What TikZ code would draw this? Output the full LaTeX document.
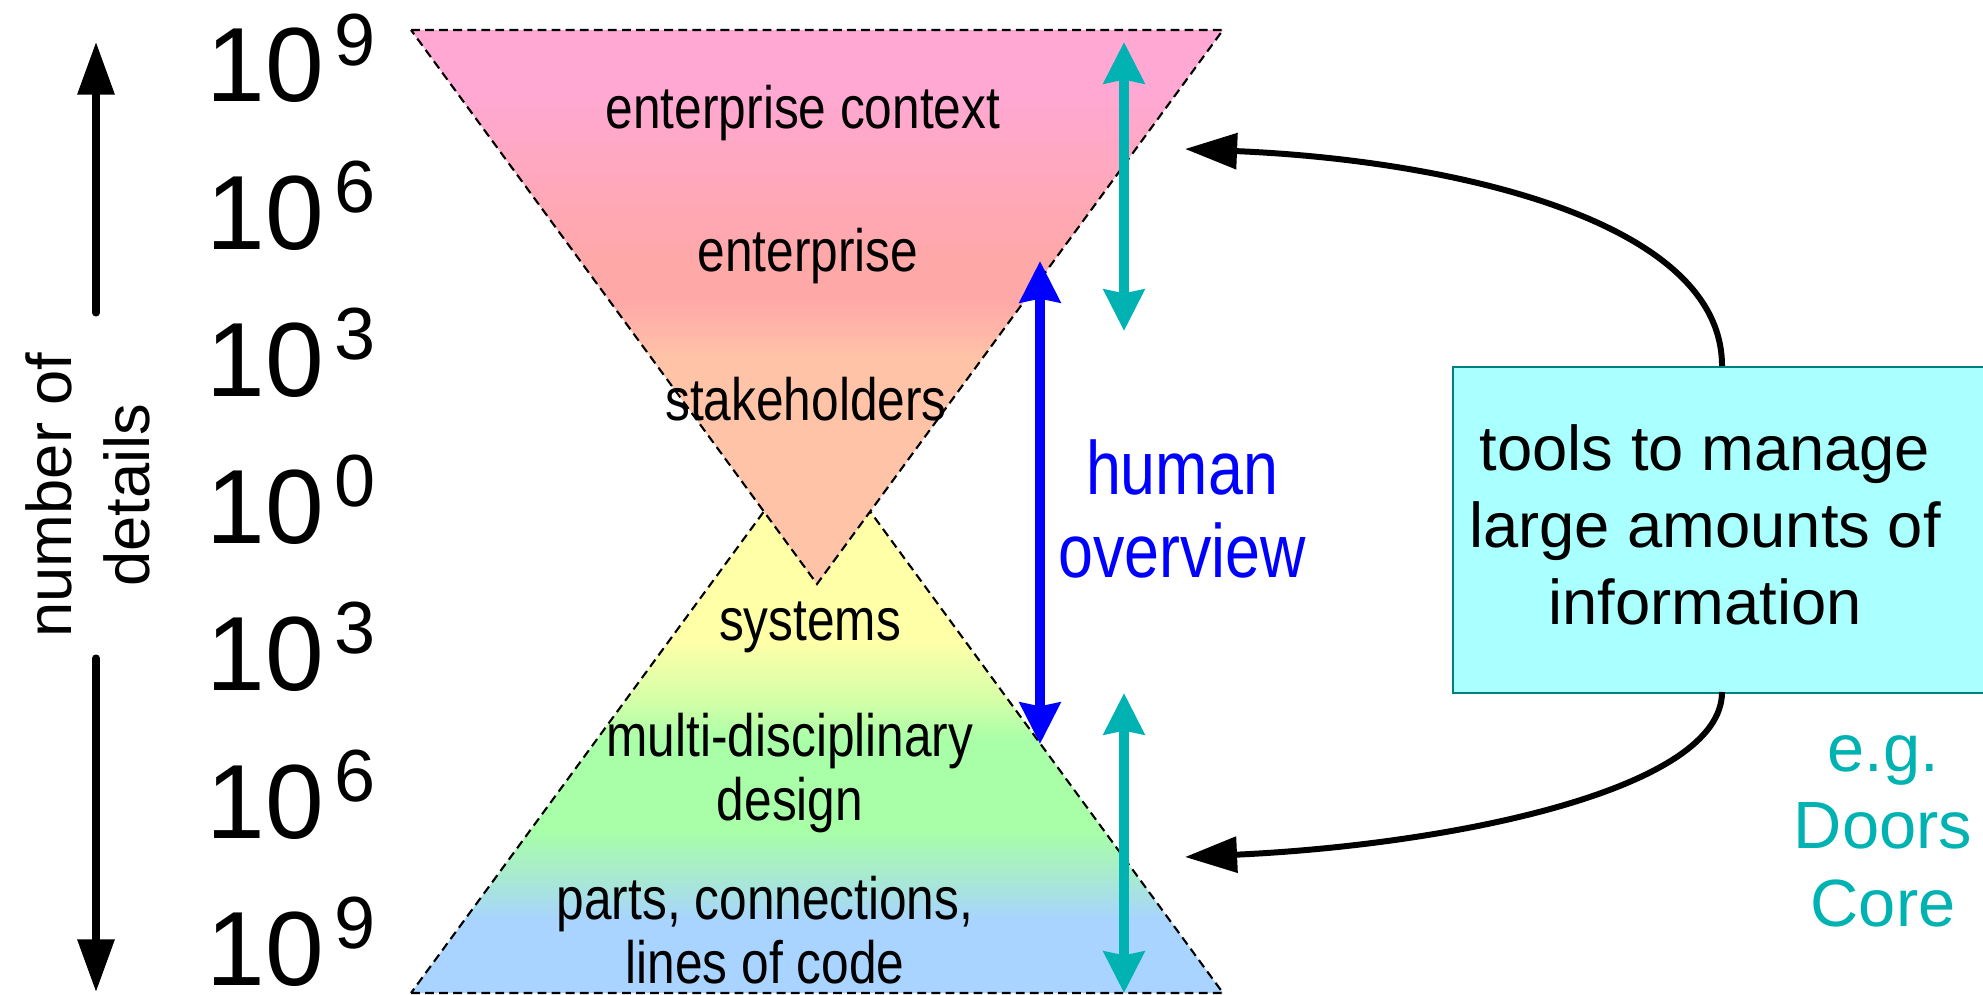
\documentclass[tikz,border=0pt]{standalone}
\usepackage{fontspec}
\setmainfont{Liberation Sans}
\newfontfamily\narrowsf{Liberation Sans}[FakeStretch=0.83]
\usetikzlibrary{arrows.meta}

\definecolor{ucpink}{RGB}{255,168,212}
\definecolor{ucrose}{RGB}{255,168,188}
\definecolor{ucsalmon}{RGB}{255,168,168}
\definecolor{ucpeach}{RGB}{255,196,168}
\definecolor{lcyellow}{RGB}{255,255,168}
\definecolor{lclime}{RGB}{212,255,168}
\definecolor{lcgreen}{RGB}{168,255,168}
\definecolor{lcsea}{RGB}{168,232,212}
\definecolor{lcblue}{RGB}{168,212,255}
\definecolor{toolfill}{RGB}{170,255,255}
\definecolor{toolline}{RGB}{0,128,128}
\definecolor{doorsteal}{RGB}{0,178,178}

\pgfdeclareverticalshading{upperfade}{100bp}{color(0bp)=(ucpeach); color(45.2bp)=(ucpeach); color(50.6bp)=(ucsalmon); color(54.2bp)=(ucsalmon); color(61.5bp)=(ucrose); color(69.6bp)=(ucpink); color(100bp)=(ucpink)}
\pgfdeclareverticalshading{lowerfade}{100bp}{color(0bp)=(lcblue); color(31.6bp)=(lcblue); color(35.2bp)=(lcsea); color(39.7bp)=(lcgreen); color(47.8bp)=(lcgreen); color(51.4bp)=(lclime); color(56.9bp)=(lcyellow); color(100bp)=(lcyellow)}

\newcommand{\tenpow}[1]{10\kern3pt\raisebox{10.5pt}{\fontsize{21}{21}\selectfont#1}}

\tikzset{
  funnel/.style={draw=black, line width=0.6pt, dash pattern=on 2.5pt off 1.5pt},
  layer/.style={font={\narrowsf\fontsize{17}{18}\selectfont}, align=center, inner sep=0pt, anchor=base},
  power/.style={font=\fontsize{30}{30}\selectfont, inner sep=0pt, anchor=base west},
  axisarrow/.style={line width=2pt, line cap=round, -{Triangle[length=15pt,width=10.2pt]}},
  spanarrow/.style={line width=2.8pt, {Stealth[length=11.7pt,width=11.4pt,inset=1pt]}-{Stealth[length=11.7pt,width=11.4pt,inset=1pt]}},
  linkarrow/.style={line width=1.7pt, -{Triangle[length=14.8pt,width=10pt]}},
  toolbox/.style={draw=toolline, fill=toolfill, line width=0.5pt, inner sep=0pt}
}

\begin{document}
\begin{tikzpicture}[x=0.01cm, y=-0.01cm]
\useasboundingbox (0,0) rectangle (1983,995);

\foreach \e [count=\i from 0] in {9,6,3,0,3,6,9}
  \node[power] (pow\i) at (206,102+147.2*\i) {\tenpow{\e}};

\coordinate (upstart) at (96,313);
\coordinate (uptip) at (96,42);
\coordinate (downstart) at (96,658);
\coordinate (downtip) at (96,992);
\draw[axisarrow] (upstart) -- (uptip);
\draw[axisarrow] (downstart) -- (downtip);
\node[rotate=90, align=center, font=\fontsize{18}{22}\selectfont] (details) at (88,495) {number of\\details};

\draw[funnel, shade, shading=lowerfade] (411,993) -- (1223,993) -- (817,439) -- cycle;
\draw[funnel, shade, shading=upperfade] (411,30) -- (1223,30) -- (817,584) -- cycle;

\node[layer] (context) at (803,129) {enterprise context};
\node[layer] (enterprise) at (808,272) {enterprise};
\node[layer] (stakeholders) at (806,421) {stakeholders};
\node[layer] (systems) at (810,640) {systems};
\node[layer] (design) at (790,820) {multi-disciplinary\\design};
\node[layer] (parts) at (765,983) {parts, connections,\\lines of code};

\coordinate (uppertop) at (1124,42);
\coordinate (upperbottom) at (1124,331);
\coordinate (lowertop) at (1124,693);
\coordinate (lowerbottom) at (1124,993);
\draw[spanarrow, doorsteal] (uppertop) -- (upperbottom);
\draw[spanarrow, doorsteal] (lowertop) -- (lowerbottom);

\coordinate (overviewtop) at (1040,261);
\coordinate (overviewbottom) at (1040,744);
\draw[spanarrow, blue] (overviewtop) -- (overviewbottom);
\node[font={\narrowsf\fontsize{21.5}{23.5}\selectfont}, text=blue, align=center] (overview) at (1182,509) {human\\overview};

\node[toolbox, anchor=north west, minimum width=5.6cm, minimum height=3.26cm] (tools) at (1452,366) {};
\node[font=\fontsize{18}{22}\selectfont, align=center] (toolstext) at (1705,525) {tools to manage\\large amounts of\\information};
\node[font=\fontsize{19}{22}\selectfont, text=doorsteal, align=center, anchor=base] (example) at (1883,926) {e.g.\\Doors\\Core};

\coordinate (linktop) at (1722,366);
\coordinate (linkbottom) at (1722,692);
\coordinate (contexttip) at (1185,149);
\coordinate (partstip) at (1185,857);
\draw[linkarrow] (linktop) .. controls (1722,220) and (1450,160) .. (contexttip);
\draw[linkarrow] (linkbottom) .. controls (1722,790) and (1450,845) .. (partstip);
\end{tikzpicture}
\end{document}
